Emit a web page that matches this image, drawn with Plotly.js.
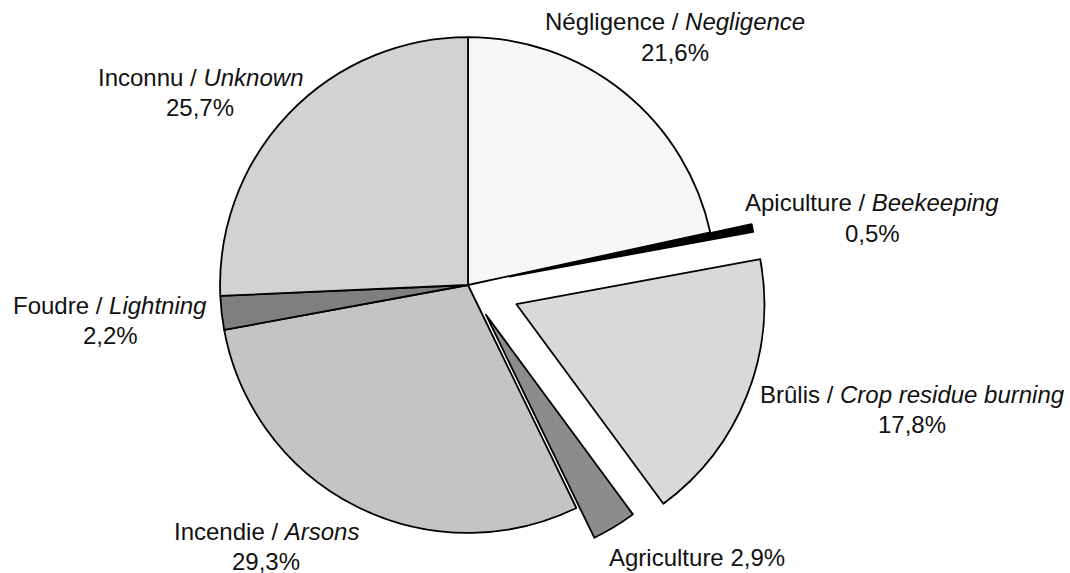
<!DOCTYPE html>
<html>
<head>
<meta charset="utf-8">
<script src="https://cdn.plot.ly/plotly-3.0.1.min.js"></script>
<style>
  html, body { margin: 0; padding: 0; background: #fff; overflow: hidden; width: 1070px; height: 573px; }
  #chart { width: 1070px; height: 600px; margin-top: -15px; }
</style>
</head>
<body>
<div id="chart"></div>
<script>
// Data
const categories = ['Négligence', 'Apiculture', 'Brûlis', 'Agriculture', 'Incendie', 'Foudre', 'Inconnu'];
const englishNames = ['Negligence', 'Beekeeping', 'Crop residue burning', '', 'Arsons', 'Lightning', 'Unknown'];
const values = [21.6, 0.5, 17.8, 2.9, 29.3, 2.2, 25.7];
const pulls = [0, 0.17, 0.21, 0.14, 0, 0, 0];
const sliceColors = ['#f7f7f7', '#000000', '#d9d9d9', '#8c8c8c', '#c4c4c4', '#7f7f7f', '#d2d2d2'];

// Label placement (pixel centres in the 1070x573 view)
const labelX = [675, 872, 912, 697, 266, 110, 200];
const labelY = [22, 203, 394, 557, 531, 305, 77];
const lineGap = 30;

const W = 1070, H = 600, OFFSET = 15;
const px = x => x / W;
const py = y => 1 - (y + OFFSET) / H;

const pct = v => v.toFixed(1).replace('.', ',') + '%';

const annotations = [];
categories.forEach((c, i) => {
  const font = { family: 'Liberation Sans, Arial, sans-serif', size: 24, color: '#111' };
  if (englishNames[i]) {
    annotations.push({ xref: 'paper', yref: 'paper', x: px(labelX[i]), y: py(labelY[i]),
      text: c + ' / <i>' + englishNames[i] + '</i>', showarrow: false, xanchor: 'center', yanchor: 'middle', font });
    annotations.push({ xref: 'paper', yref: 'paper', x: px(labelX[i]), y: py(labelY[i] + lineGap),
      text: pct(values[i]), showarrow: false, xanchor: 'center', yanchor: 'middle', font });
  } else {
    annotations.push({ xref: 'paper', yref: 'paper', x: px(labelX[i]), y: py(labelY[i]),
      text: c + ' ' + pct(values[i]), showarrow: false, xanchor: 'center', yanchor: 'middle', font });
  }
});

const trace = {
  type: 'pie',
  labels: categories,
  values: values,
  pull: pulls,
  sort: false,
  direction: 'clockwise',
  rotation: 0,
  textinfo: 'none',
  hoverinfo: 'skip',
  showlegend: false,
  domain: { x: [0, 936 / W], y: [0, 1] },
  marker: { colors: sliceColors, line: { color: '#000', width: 1.8 } }
};

const layout = {
  width: W, height: H,
  margin: { l: 0, r: 0, t: 0, b: 0 },
  paper_bgcolor: '#fff',
  plot_bgcolor: '#fff',
  showlegend: false,
  annotations: annotations
};

Plotly.newPlot('chart', [trace], layout, { displayModeBar: false, staticPlot: true });
</script>
</body>
</html>
